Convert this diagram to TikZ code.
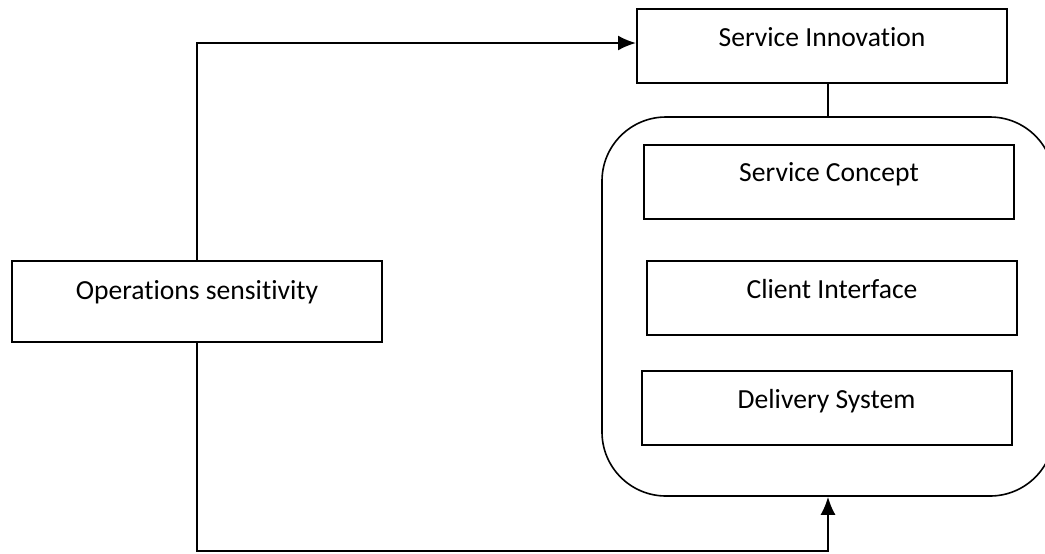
\documentclass[tikz,border=0pt]{standalone}
\usepackage{fontspec}
\setmainfont{Carlito}[Ligatures={NoCommon}]
\usetikzlibrary{arrows.meta}

\begin{document}
\begin{tikzpicture}[x=0.5pt,y=-0.5pt]

%
% Styles
%
\tikzstyle{textbox} = [rectangle,draw=black,line width=1pt,minimum width=185pt,minimum height=37pt,
  inner sep=0pt,text height=10pt,text depth=10pt,font=\fontsize{13.8}{16}\selectfont]
\tikzstyle{group} = [rectangle,draw=black,line width=0.8pt,rounded corners=32pt,inner sep=0pt,
  minimum width=226pt,minimum height=189.5pt]
\tikzstyle{link} = [draw=black,line width=1pt]

\useasboundingbox (0,0) rectangle (1045,553);
\clip (0,0) rectangle (1045,553);

\node[group] (grp) at (828,306.5) {};

\node[textbox] (si) at (822,46)  {Service Innovation};
\node[textbox] (sc) at (829,181.5) {Service Concept};
\node[textbox] (ci) at (832,298) {Client Interface};
\node[textbox] (ds) at (826.5,408) {Delivery System};
\node[textbox,minimum height=40.5pt,text depth=12pt] (os) at (197,301.5) {Operations sensitivity};

\coordinate (low) at (0,551);

\draw[link,-{Latex[length=9pt,width=7.5pt]}] (os.north) |- ([yshift=1.5pt]si.west);
\draw[link] (grp.north) -- (grp.north |- si.south);
\draw[link,-{Latex[length=9pt,width=7.5pt]}] (os.south) -- (os.south |- low) -| (grp.south);

\end{tikzpicture}
\end{document}
